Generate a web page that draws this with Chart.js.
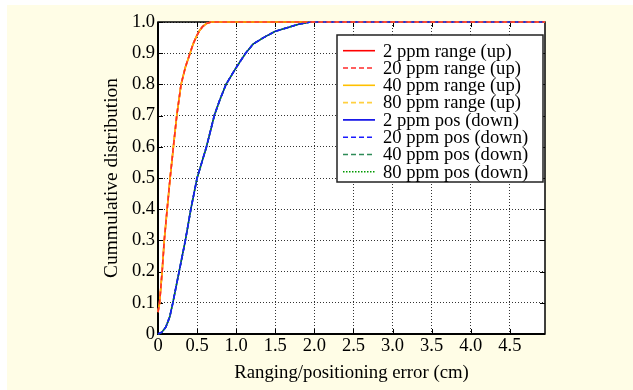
<!DOCTYPE html>
<html>
<head>
<meta charset="utf-8">
<script src="https://cdn.jsdelivr.net/npm/chart.js@4.4.1/dist/chart.umd.min.js"></script>
<style>
  html, body { margin: 0; padding: 0; background: #fff; }
  #wrap { width: 633px; height: 390px; }
</style>
</head>
<body>
<div id="wrap"><canvas id="cdf-chart" width="633" height="390"></canvas></div>
<script>
// CDF of ranging error (uplink) and positioning error (downlink)
const rangeErr = [0, 0.02, 0.053, 0.08, 0.117, 0.155, 0.197, 0.24, 0.295, 0.35, 0.41, 0.45, 0.49, 0.53, 0.57, 0.62, 0.68, 4.95];
const rangeCdf = [0.07, 0.1, 0.2, 0.3, 0.4, 0.5, 0.6, 0.7, 0.8, 0.855, 0.9, 0.93, 0.953, 0.972, 0.985, 0.995, 1.0, 1.0];
const posErr = [0, 0.05, 0.1, 0.15, 0.19, 0.23, 0.27, 0.31, 0.35, 0.385, 0.42, 0.46, 0.5, 0.56, 0.62, 0.67, 0.72, 0.79, 0.87, 0.99, 1.12, 1.22, 1.35, 1.5, 1.63, 1.8, 1.95, 4.95];
const posCdf = [0, 0.006, 0.022, 0.055, 0.1, 0.15, 0.2, 0.25, 0.3, 0.35, 0.4, 0.45, 0.5, 0.55, 0.6, 0.65, 0.7, 0.75, 0.8, 0.85, 0.9, 0.93, 0.95, 0.97, 0.98, 0.993, 1.0, 1.0];

const seriesLabels = ['2 ppm range (up)', '20 ppm range (up)', '40 ppm range (up)', '80 ppm range (up)',
  '2 ppm pos (down)', '20 ppm pos (down)', '40 ppm pos (down)', '80 ppm pos (down)'];
const xTicks = [0, 0.5, 1.0, 1.5, 2.0, 2.5, 3.0, 3.5, 4.0, 4.5];
const yTicks = [0, 0.1, 0.2, 0.3, 0.4, 0.5, 0.6, 0.7, 0.8, 0.9, 1.0];

// styles
const seriesColors = ['#ff0000', '#ff2a2a', '#ffc000', '#ffd040', '#0000e6', '#1a1aff', '#2e8b57', '#009900'];
const seriesDash = [[], [5, 3], [], [5, 3], [], [5, 3], [5, 3], [1.5, 1.5]];
const drawOrder = [4, 1, 3, 2, 4, 1, 3, 2];
const serif = "'Liberation Serif', 'Times New Roman', serif";

const toPoints = (xs, ys) => xs.map((x, i) => ({ x: x, y: ys[i] }));

const datasets = seriesLabels.map((label, i) => ({
  label: label,
  data: i < 4 ? toPoints(rangeErr, rangeCdf) : toPoints(posErr, posCdf),
  borderColor: seriesColors[i],
  borderDash: seriesDash[i],
  borderWidth: 1.6,
  pointRadius: 0,
  tension: 0,
  fill: false,
  clip: 3,
  order: drawOrder[i]
}));

const paperPlugin = {
  id: 'paper',
  beforeDraw(chart) {
    const { ctx, width, height, chartArea: a } = chart;
    ctx.save();
    ctx.fillStyle = '#ffffff';
    ctx.fillRect(0, 0, width, height);
    ctx.fillStyle = '#fffde6';
    ctx.fillRect(7, 5, width - 7, height - 5);
    ctx.fillStyle = '#ffffff';
    ctx.fillRect(a.left, a.top, a.right - a.left, a.bottom - a.top);
    ctx.restore();
  },
  beforeDatasetsDraw(chart) {
    const { ctx, chartArea: a, scales } = chart;
    ctx.save();
    ctx.strokeStyle = '#000';
    // inward tick marks on all four sides
    ctx.lineWidth = 1;
    ctx.beginPath();
    xTicks.forEach(v => {
      const px = Math.round(scales.x.getPixelForValue(v)) + 0.5;
      ctx.moveTo(px, a.bottom); ctx.lineTo(px, a.bottom - 5);
      ctx.moveTo(px, a.top); ctx.lineTo(px, a.top + 5);
    });
    yTicks.forEach(v => {
      const py = Math.round(scales.y.getPixelForValue(v)) + 0.5;
      ctx.moveTo(a.left, py); ctx.lineTo(a.left + 5, py);
      ctx.moveTo(a.right, py); ctx.lineTo(a.right - 5, py);
    });
    ctx.stroke();
    // frame
    ctx.lineWidth = 1.5;
    ctx.strokeRect(a.left, a.top, a.right - a.left, a.bottom - a.top);
    ctx.lineWidth = 2;
    ctx.beginPath();
    ctx.moveTo(a.left, a.top); ctx.lineTo(a.left, a.bottom); ctx.lineTo(a.right, a.bottom);
    ctx.stroke();
    ctx.restore();
  },
  afterDatasetsDraw(chart) {
    const { ctx, chartArea: a } = chart;
    const box = { left: a.right - 208, top: a.top + 13, width: 206, height: 147 };
    ctx.save();
    ctx.fillStyle = '#ffffff';
    ctx.fillRect(box.left, box.top, box.width, box.height);
    ctx.strokeStyle = '#222';
    ctx.lineWidth = 1.5;
    ctx.strokeRect(box.left, box.top, box.width, box.height);
    ctx.font = '18.6px ' + serif;
    ctx.textBaseline = 'middle';
    ctx.textAlign = 'left';
    chart.data.datasets.forEach((ds, i) => {
      const y = box.top + 15.7 + i * 17.3;
      ctx.strokeStyle = ds.borderColor;
      ctx.lineWidth = 1.6;
      ctx.setLineDash(ds.borderDash);
      ctx.beginPath();
      ctx.moveTo(box.left + 6, y);
      ctx.lineTo(box.left + 38, y);
      ctx.stroke();
      ctx.setLineDash([]);
      ctx.fillStyle = '#000';
      ctx.fillText(ds.label, box.left + 46, y + 1);
    });
    ctx.restore();
  }
};

const fmt = v => (v === 0 ? '0' : v.toFixed(1));

new Chart(document.getElementById('cdf-chart'), {
  type: 'line',
  data: { datasets: datasets },
  plugins: [paperPlugin],
  options: {
    responsive: false,
    animation: false,
    devicePixelRatio: 1,
    layout: { padding: { left: 100, right: 88, top: 22, bottom: 0 } },
    plugins: { legend: { display: false }, tooltip: { enabled: false } },
    scales: {
      x: {
        type: 'linear',
        min: 0,
        max: 4.95,
        afterBuildTicks: s => { s.ticks = xTicks.map(v => ({ value: v })); },
        afterFit: s => { s.height = 56; },
        ticks: { callback: fmt, color: '#000', font: { family: serif, size: 18.5 }, padding: 1, maxRotation: 0, autoSkip: false },
        grid: { color: '#333', lineWidth: 1, drawTicks: false },
        border: { display: false, dash: [1, 2] },
        title: { display: true, text: 'Ranging/positioning error (cm)', color: '#000', font: { family: serif, size: 18.8 }, padding: { top: 0, bottom: 6 } }
      },
      y: {
        type: 'linear',
        min: 0,
        max: 1,
        afterBuildTicks: s => { s.ticks = yTicks.map(v => ({ value: v })); },
        afterFit: s => { s.width = 58; },
        ticks: { callback: fmt, color: '#000', font: { family: serif, size: 18.5 }, padding: 3, autoSkip: false },
        grid: { color: '#333', lineWidth: 1, drawTicks: false },
        border: { display: false, dash: [1, 2] },
        title: { display: true, text: 'Cummulative distribution', color: '#000', font: { family: serif, size: 19.4 }, padding: 0 }
      }
    }
  }
});
</script>
</body>
</html>
